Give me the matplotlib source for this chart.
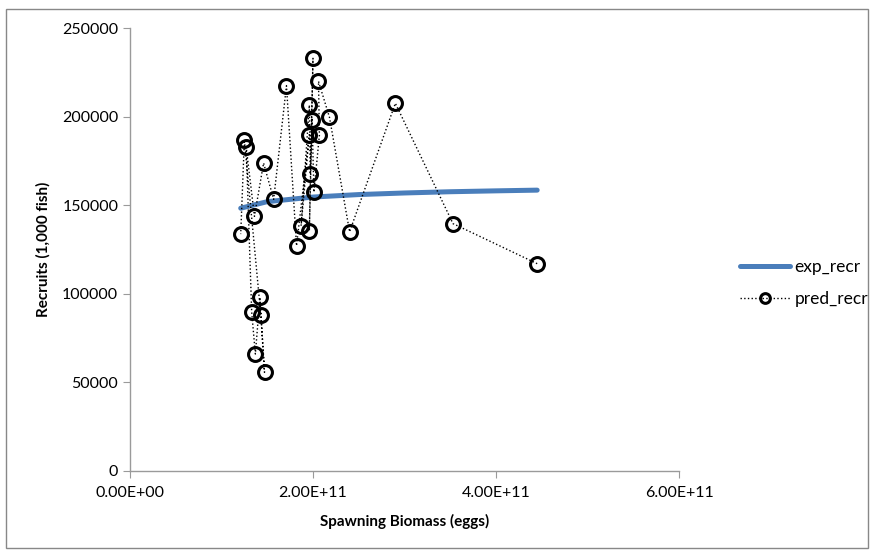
import matplotlib.pyplot as plt
from matplotlib.patches import Rectangle
from matplotlib.ticker import FuncFormatter

plt.rcParams['font.family'] = ['Lato', 'DejaVu Sans']

# expected recruitment curve (spawning biomass, recruits)
exp_S = [1.21e11, 1.5e11, 2.0e11, 2.5e11, 3.0e11, 3.5e11, 4.0e11, 4.45e11]
exp_R = [148300, 152000, 154600, 156000, 156900, 157600, 158100, 158500]

# predicted recruitment, in series order
pred_S = [4.45e11, 3.53e11, 2.90e11, 2.40e11, 2.18e11, 2.06e11, 2.07e11,
          2.01e11, 1.99e11, 1.96e11, 2.00e11, 1.97e11, 1.96e11, 1.87e11,
          1.96e11, 1.82e11, 1.71e11, 1.57e11, 1.46e11, 1.36e11, 1.27e11,
          1.33e11, 1.37e11, 1.42e11, 1.47e11, 1.43e11, 1.25e11, 1.21e11]
pred_R = [117000, 139600, 207500, 135000, 199600, 219900, 189600,
          157400, 198300, 135600, 232900, 167600, 206500, 138400,
          189800, 127100, 217400, 153300, 173800, 143700, 182700,
          89700, 66000, 98000, 55700, 87900, 186800, 133700]

xticks = [0, 2e11, 4e11, 6e11]
yticks = [0, 50000, 100000, 150000, 200000, 250000]

fig = plt.figure(figsize=(8.73, 5.52), dpi=100)
ax = fig.add_axes([130/873, 1-471/552, 549/873, 443/552])

ax.plot(exp_S, exp_R, color='#4a7ebb', lw=3.6, solid_capstyle='round',
        label='exp_recr', zorder=2)
ax.plot(pred_S, pred_R, color='black', ls=':', lw=1.0, marker='o', ms=10,
        mfc='none', mec='black', mew=2.2, label='pred_recr', zorder=3)

ax.set_xlim(0, 6e11)
ax.set_ylim(0, 250000)
ax.set_xticks(xticks)
ax.set_yticks(yticks)
ax.xaxis.set_major_formatter(FuncFormatter(lambda v, p: '%.2E' % v))
ax.yaxis.set_major_formatter(FuncFormatter(lambda v, p: '%d' % v))

for s in ['top', 'right']:
    ax.spines[s].set_visible(False)
for s in ['left', 'bottom']:
    ax.spines[s].set_color('#9a9a9a')
    ax.spines[s].set_linewidth(1.0)
ax.tick_params(colors='#9a9a9a', labelcolor='black', labelsize=11.5, length=5,
               direction='out')
ax.tick_params(axis='x', pad=6)

ax.set_xlabel('Spawning Biomass (eggs)', fontsize=11, fontweight='bold', labelpad=10)
ax.set_ylabel('Recruits (1,000 fish)', fontsize=11, fontweight='bold', labelpad=8)

fig.legend(loc='center left', bbox_to_anchor=(740/873, 1-283/552), frameon=False,
           fontsize=12.5, handlelength=2.9, labelspacing=0.95, handletextpad=0.25,
           borderpad=0, borderaxespad=0, markerscale=0.7)

fig.patches.append(Rectangle((6/873, 4/552), 862/873, 539/552, transform=fig.transFigure,
                             fill=False, edgecolor='#888888', lw=1.0))

fig.savefig('out.png', dpi=100)
